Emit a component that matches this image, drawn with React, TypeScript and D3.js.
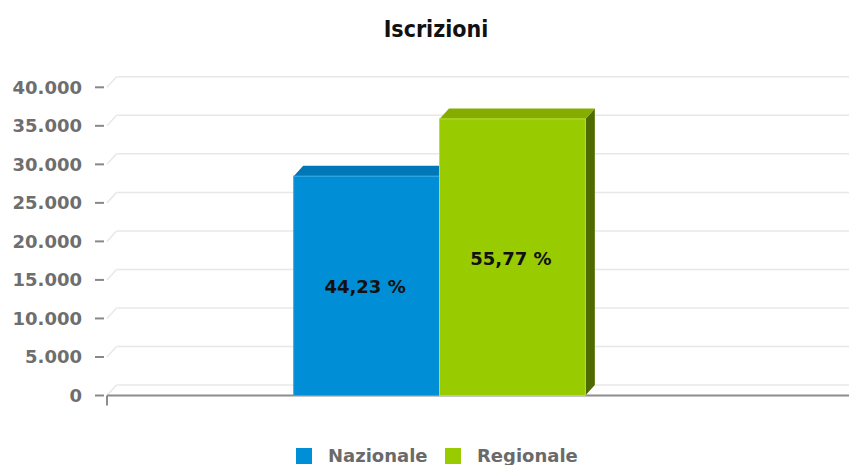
import React from "react";
import * as d3 from "d3";

const title = "Iscrizioni";
const categories = ["Iscrizioni"];
const seriesNames = ["Nazionale", "Regionale"];
const seriesValues = [28470, 35900];
const tickValues = [0, 5000, 10000, 15000, 20000, 25000, 30000, 35000, 40000];

const W = 849;
const H = 465;
const FONT = "'DejaVu Sans', sans-serif";
const FONT_C = "'DejaVu Sans Condensed', 'DejaVu Sans', sans-serif";

const frontColors = ["#008ed6", "#99cc00"];
const topColors = ["#0078b8", "#84ad00"];
const sideColors = ["#005f8f", "#4d6b00"];
const edgeColors = ["#3aa9e3", "#b8e03a"];

const itLocale = d3.formatLocale({ decimal: ",", thousands: ".", grouping: [3], currency: ["€", ""] });
const fmtTick = itLocale.format(",d");
const fmtPct = itLocale.format(".2f");

export default function App() {
  const plotLeft = 107;
  const baseY = 395.5;
  const topY = 87.3;
  const dx = 9.5;
  const dy = -10.5;

  const y = d3.scaleLinear().domain([0, 40000]).range([baseY, topY]);
  const x0 = d3.scaleBand<string>().domain(categories).range([plotLeft, 772]).paddingOuter(0.64).paddingInner(0);
  const x1 = d3.scaleBand<string>().domain(seriesNames).range([0, x0.bandwidth()]).padding(0);

  const total = d3.sum(seriesValues);

  return (
    <svg width={W} height={H} style={{ position: "absolute", left: 0, top: 0, background: "#fff" }}>
      <text x={436} y={37} textAnchor="middle" fontFamily={FONT_C} fontWeight="bold" fontSize={23} fill="#111">
        {title}
      </text>

      {/* gridlines with depth */}
      {tickValues.map((v) => {
        const yy = y(v);
        return (
          <g key={"g" + v}>
            <line x1={plotLeft + dx} x2={W} y1={yy + dy} y2={yy + dy} stroke="#e8e8e8" strokeWidth={1.5} />
            <line x1={plotLeft} x2={plotLeft + dx} y1={yy} y2={yy + dy} stroke="#e8e8e8" strokeWidth={1.5} />
            <line x1={95} x2={104} y1={yy} y2={yy} stroke="#888" strokeWidth={2} />
            <text x={82} y={yy} dy="0.36em" textAnchor="end" fontFamily={FONT} fontWeight="bold" fontSize={18} fill="#6e6e6e">
              {fmtTick(v)}
            </text>
          </g>
        );
      })}

      {/* baseline */}
      <line x1={plotLeft} x2={W} y1={baseY} y2={baseY} stroke="#8c8c8c" strokeWidth={2} />
      <line x1={plotLeft} x2={plotLeft} y1={baseY} y2={baseY + 10} stroke="#8c8c8c" strokeWidth={2} />

      {/* bars */}
      {categories.map((c) =>
        seriesNames.map((s, i) => {
          const bx = (x0(c) ?? 0) + (x1(s) ?? 0);
          const bw = x1.bandwidth();
          const by = y(seriesValues[i]);
          const top = `M${bx},${by} L${bx + dx},${by + dy} L${bx + bw + dx},${by + dy} L${bx + bw},${by} Z`;
          const side = `M${bx + bw},${by} L${bx + bw + dx},${by + dy} L${bx + bw + dx},${baseY + dy} L${bx + bw},${baseY} Z`;
          return (
            <g key={c + s}>
              <path d={side} fill={sideColors[i]} />
              <path d={top} fill={topColors[i]} />
              <rect x={bx} y={by} width={bw} height={baseY - by} fill={frontColors[i]} stroke={edgeColors[i]} strokeWidth={1} />
            </g>
          );
        })
      )}

      {/* value labels */}
      {categories.map((c) =>
        seriesNames.map((s, i) => {
          const bx = (x0(c) ?? 0) + (x1(s) ?? 0);
          const bw = x1.bandwidth();
          const by = y(seriesValues[i]);
          return (
            <text key={"l" + s} x={bx + bw / 2 - 1.5} y={(by + baseY) / 2 + 1} dy="0.36em" textAnchor="middle" fontFamily={FONT} fontWeight="bold" fontSize={18} fill="#111">
              {fmtPct((seriesValues[i] / total) * 100) + " %"}
            </text>
          );
        })
      )}

      {/* legend */}
      {seriesNames.map((s, i) => {
        const lx = i === 0 ? 296 : 445;
        return (
          <g key={"lg" + s}>
            <rect x={lx} y={448} width={16} height={16} fill={frontColors[i]} />
            <text x={lx + 32} y={462} fontFamily={FONT} fontWeight="bold" fontSize={18} fill="#6a6a6a">
              {s}
            </text>
          </g>
        );
      })}
    </svg>
  );
}
